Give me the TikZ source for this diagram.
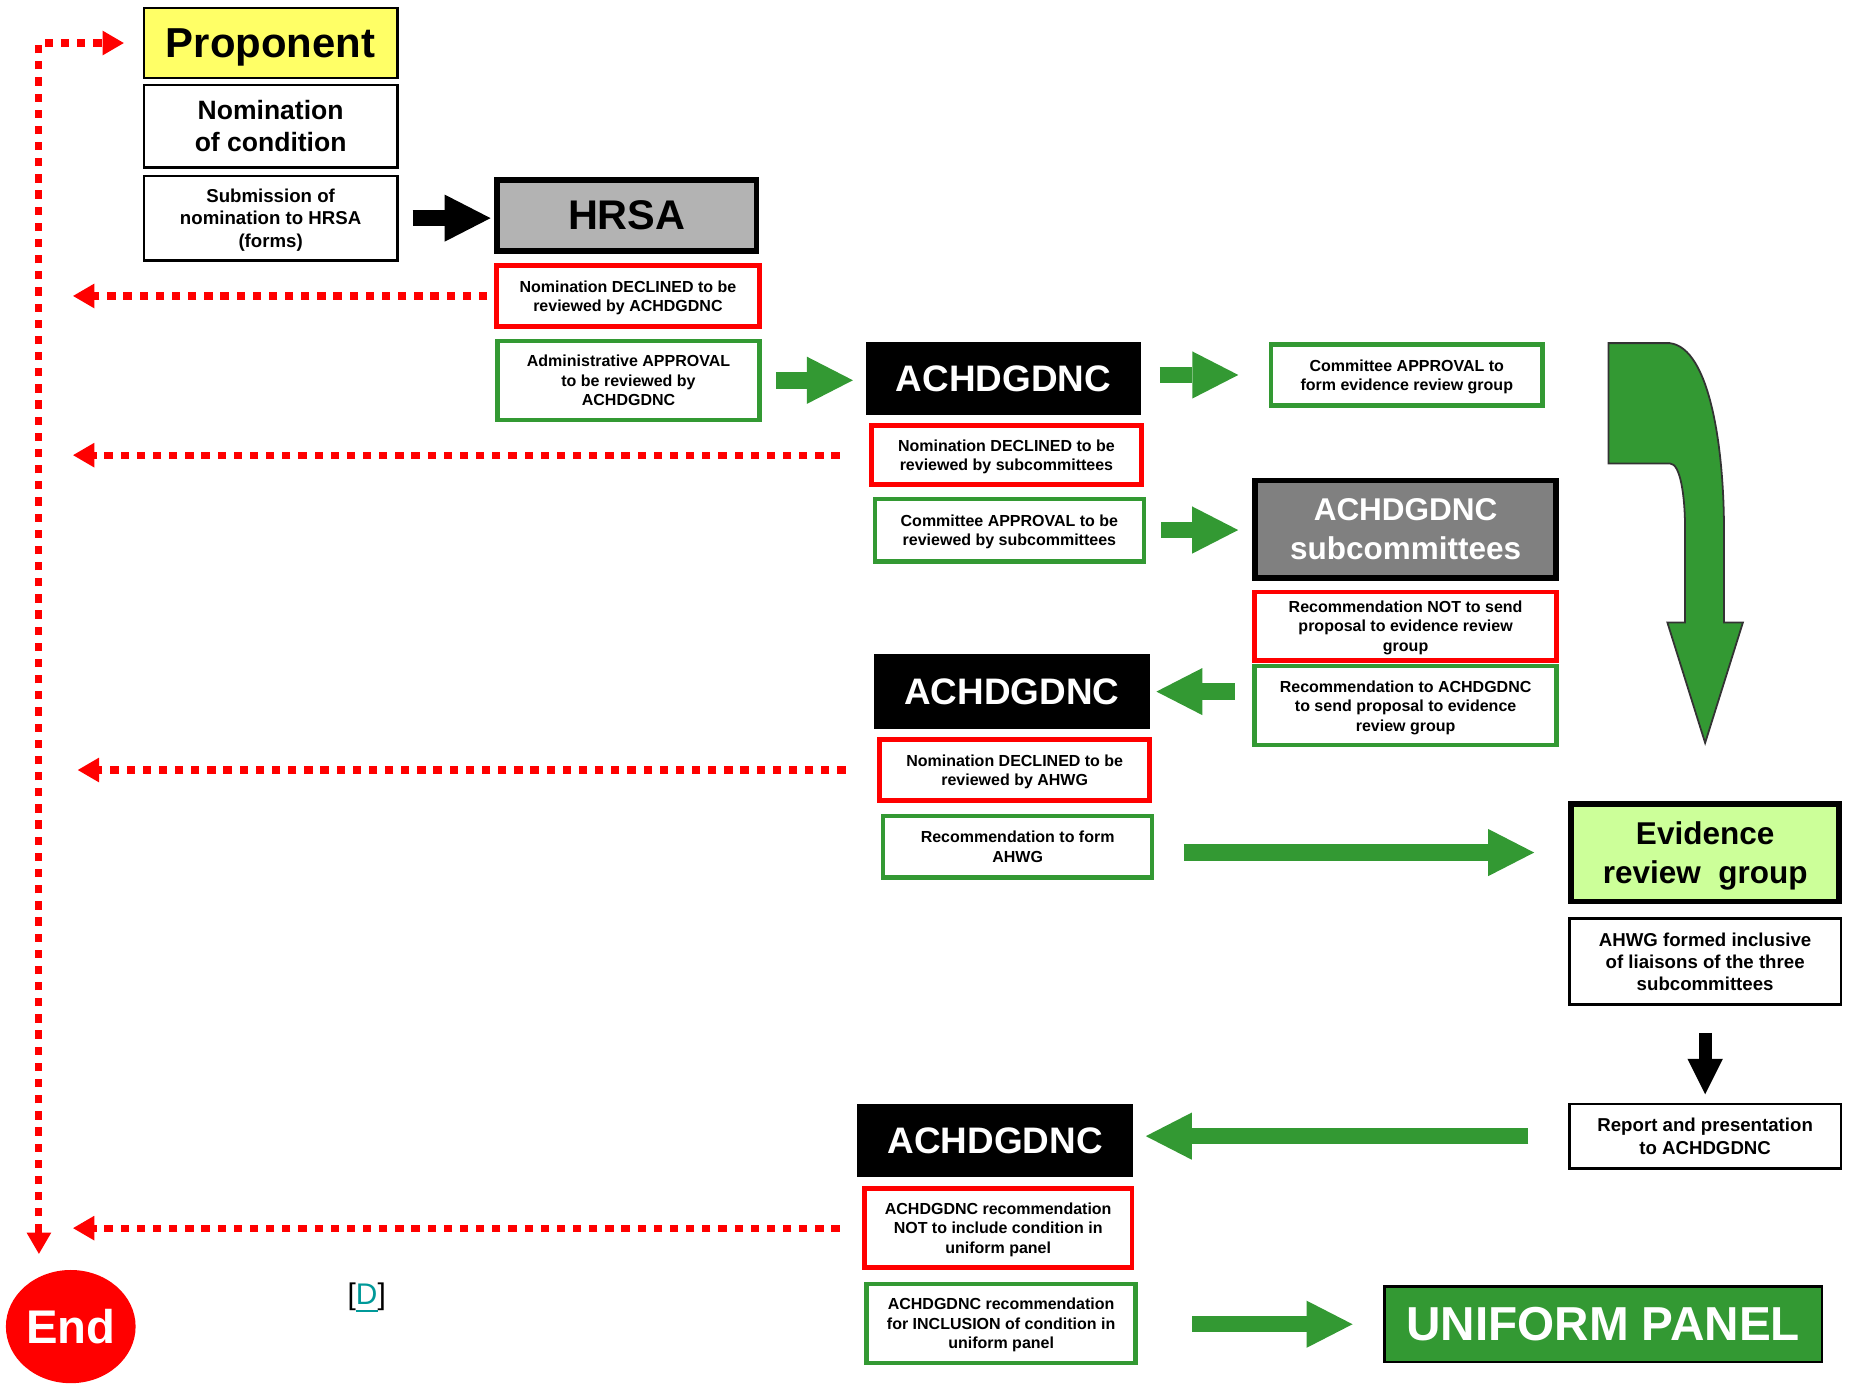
\documentclass[tikz,border=0pt]{standalone}
\usepackage{fontspec}
\setmainfont{Liberation Sans}
\usetikzlibrary{arrows.meta,calc,shapes.geometric}

\definecolor{okgreen}{HTML}{339933}
\definecolor{nored}{HTML}{FF0000}
\definecolor{propyellow}{HTML}{FFFF66}
\definecolor{ergreen}{HTML}{CCFF99}
\definecolor{hrsagray}{HTML}{B3B3B3}
\definecolor{subgray}{HTML}{808080}
\definecolor{linkteal}{HTML}{009999}

\begin{document}
\begin{tikzpicture}[x=0.1mm, y=-0.1mm,
    box/.style={rectangle, inner sep=0pt, align=center, text depth=0pt, font=\fontsize{3.86pt}{4.7pt}\selectfont\bfseries, minimum width=22.8mm, minimum height=5.2mm},
    nobox/.style={box, draw=nored, line width=0.38mm},
    okbox/.style={box, draw=okgreen, line width=0.38mm},
    wbox/.style={box, draw, line width=0.2mm, minimum width=21.5mm, font=\fontsize{4.5pt}{5.4pt}\selectfont\bfseries},
    board/.style={box, fill=black, text=white, minimum width=23.4mm, minimum height=6.2mm, font=\fontsize{8.9pt}{10pt}\selectfont\bfseries},
    heavy/.style={box, draw, line width=0.5mm, font=\fontsize{7.6pt}{9.4pt}\selectfont\bfseries},
    garrow/.style={draw=okgreen, line width=1.4mm, -{Triangle[length=3.9mm, width=4mm, line width'=0pt]}},
    karrow/.style={garrow, draw=black},
    noline/.style={draw=nored, line width=0.6mm, dash pattern=on 0.7mm off 0.67mm, -{Triangle[length=1.8mm, width=2.1mm, line width'=0pt]}},
  ]
  \useasboundingbox (0,0) rectangle (1568,1178);

  % left column
  \node[wbox, fill=propyellow, minimum height=5.9mm, font=\fontsize{10.1pt}{12pt}\selectfont\bfseries] (prop) at (229.5,36.5) {Proponent};
  \node[wbox, minimum height=7mm, font=\fontsize{6.4pt}{7.7pt}\selectfont\bfseries] (nomc) at (229.5,107) {Nomination\\of condition};
  \node[wbox, minimum height=7.2mm] (subm) at (229.5,185) {Submission of\\nomination to HRSA\\(forms)};

  % HRSA
  \node[heavy, fill=hrsagray, minimum width=22mm, minimum height=6mm, font=\fontsize{10pt}{12pt}\selectfont\bfseries] (hrsa) at (531.5,182.5) {HRSA};
  \node[nobox, minimum width=22.3mm] (decA) at (532.5,251) {Nomination DECLINED to be\\reviewed by ACHDGDNC};
  \node[okbox, minimum width=22.2mm, minimum height=6.7mm] (appA) at (533,322.5) {Administrative APPROVAL\\to be reviewed by\\ACHDGDNC};

  % committee
  \node[board] (achA) at (851,321) {ACHDGDNC};
  \node[okbox, minimum width=23mm] (cmtF) at (1193,318) {Committee APPROVAL to\\form evidence review group};
  \node[nobox, minimum width=22.9mm, minimum height=5mm] (decB) at (853.5,386) {Nomination DECLINED to be\\reviewed by subcommittees};
  \node[okbox, minimum height=5.3mm] (cmtS) at (856,449.5) {Committee APPROVAL to be\\reviewed by subcommittees};

  % subcommittees
  \node[heavy, fill=subgray, text=white, minimum width=25.5mm, minimum height=8.3mm] (subc) at (1192,449) {ACHDGDNC\\subcommittees};
  \node[nobox, minimum width=25.6mm, minimum height=5.8mm, text depth=-2.4mm] (recN) at (1192,531) {Recommendation NOT to send\\proposal to evidence review\\group};
  \node[okbox, minimum width=25.6mm, minimum height=6.7mm] (recY) at (1192,598.5) {Recommendation to ACHDGDNC\\to send proposal to evidence\\review group};

  \node[board, minimum height=6.3mm] (achB) at (858,586.5) {ACHDGDNC};
  \node[nobox, minimum width=22.9mm] (decC) at (860.5,653) {Nomination DECLINED to be\\reviewed by AHWG};
  \node[okbox] (recF) at (863,718) {Recommendation to form\\AHWG};

  % evidence review group
  \node[heavy, fill=ergreen, minimum width=22.7mm, minimum height=8.3mm] (erg) at (1446,723) {Evidence\\review\ \ group};
  \node[wbox, minimum width=23mm, minimum height=7.3mm] (ahwg) at (1446,815.5) {AHWG formed inclusive\\of liaisons of the three\\subcommittees};
  \node[wbox, minimum width=23mm, minimum height=5.5mm] (rep) at (1446,963.5) {Report and presentation\\to ACHDGDNC};

  \node[board] (achC) at (844,967) {ACHDGDNC};
  \node[nobox, minimum width=22.7mm, minimum height=6.7mm] (decD) at (846.5,1041.5) {ACHDGDNC recommendation\\NOT to include condition in\\uniform panel};
  \node[okbox, minimum height=6.7mm] (incl) at (849,1122.5) {ACHDGDNC recommendation\\for INCLUSION of condition in\\uniform panel};
  \node[wbox, fill=okgreen, text=white, minimum width=37.1mm, minimum height=6.4mm, font=\fontsize{11.5pt}{13pt}\selectfont\bfseries] (panel) at (1359.5,1123) {UNIFORM PANEL};

  \node[ellipse, fill=nored, text=white, inner sep=0pt, minimum width=11mm, minimum height=9.6mm, font=\fontsize{11.4pt}{13pt}\selectfont\bfseries] (endn) at (60,1125) {End};
  \node[font=\fontsize{7.2pt}{8pt}\selectfont, inner sep=0pt] (dref) at (311,1101) {[\textcolor{linkteal}{\underline{D}}]};

  % block arrows
  \draw[karrow, shorten <=1.2mm, shorten >=0.3mm] (subm.east) -- (subm.east -| hrsa.west);
  \draw[garrow, shorten <=1.2mm, shorten >=1mm] (appA.east) -- (appA.east -| achA.west);
  \draw[garrow, shorten <=1.5mm, shorten >=2.6mm] (cmtF.west -| achA.east) -- (cmtF.west);
  \draw[garrow, shorten <=1.3mm, shorten >=1.2mm] (cmtS.east) -- (cmtS.east -| subc.west);
  \draw[garrow, shorten <=1.5mm, shorten >=0.5mm] (achB.east -| recY.west) -- (achB.east);
  \draw[garrow, shorten <=2.5mm, shorten >=2.9mm] (erg.west -| recF.east) -- (erg.west);
  \draw[garrow, shorten <=3.4mm, shorten >=1mm] (rep.west) -- (rep.west -| achC.east);
  \draw[garrow, shorten <=4.6mm, shorten >=2.6mm] (panel.west -| incl.east) -- (panel.west);
  \draw[karrow, line width=1.1mm, -{Triangle[length=3mm, width=3mm, line width'=0pt]}, shorten <=2.3mm, shorten >=0.7mm] (ahwg.south) -- (rep.north);

  % bent arrow to evidence review group
  \draw[fill=okgreen, draw=black!80, line width=0.15mm] (1364,291) -- (1416,291) .. controls (1450,295) and (1462,380) .. (1462,450) -- (1462,528) -- (1478,528) -- (1446,630) -- (1414,528) -- (1429,528) -- (1429,450) .. controls (1429,420) and (1425,393) .. (1416,393) -- (1364,393) -- cycle;

  % declined paths back to the start
  \coordinate (loop) at (33,36.5);
  \draw[noline, {Triangle[length=1.8mm, width=2.1mm, line width'=0pt]}-{Triangle[length=1.8mm, width=2.1mm, line width'=0pt]}, shorten <=1.3mm, shorten >=1.6mm] (loop |- endn.north) -- (loop) -- (prop.west);
  \draw[noline, shorten <=0.6mm, shorten >=2.9mm] (decA.west) -- (decA.west -| loop);
  \draw[noline, shorten <=2.5mm, shorten >=2.9mm] (decB.west) -- (decB.west -| loop);
  \draw[noline, shorten <=2.7mm, shorten >=3.3mm] (decC.west) -- (decC.west -| loop);
  \draw[noline, shorten <=1.9mm, shorten >=2.9mm] (decD.west) -- (decD.west -| loop);
\end{tikzpicture}
\end{document}
